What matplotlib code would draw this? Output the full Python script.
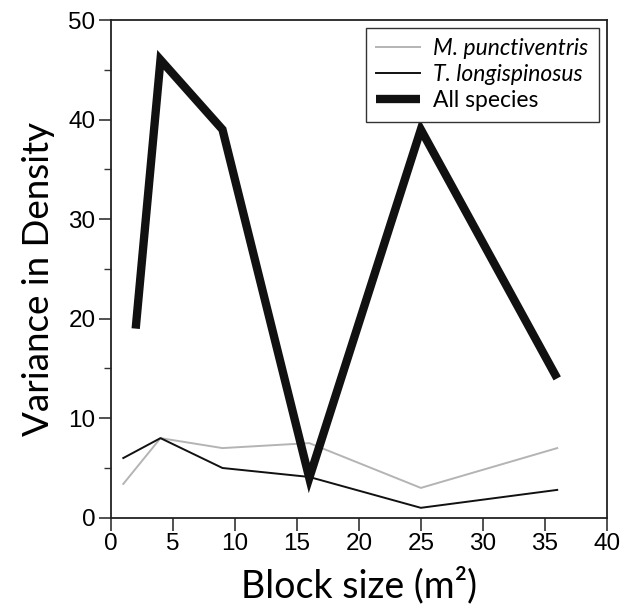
import matplotlib
matplotlib.use("Agg")
import matplotlib.pyplot as plt
from matplotlib.ticker import MultipleLocator

# block sizes (m^2) and variance in density
x_species = [1, 4, 9, 16, 25, 36]
m_punct = [3.4, 8.0, 7.0, 7.5, 3.0, 7.0]
t_long = [6.0, 8.0, 5.0, 4.1, 1.0, 2.8]
x_all = [2, 4, 9, 16, 25, 36]
all_species = [19, 46, 39, 4, 39, 14]

fig = plt.figure(figsize=(6.23, 6.07), dpi=100)
ax = fig.add_axes([0.178, 0.147, 0.796, 0.820])

ax.plot(x_species, m_punct, color="#b4b4b4", lw=1.4, label="M. punctiventris")
ax.plot(x_species, t_long, color="#111111", lw=1.4, label="T. longispinosus")
ax.plot(x_all, all_species, color="#111111", lw=6, solid_capstyle="butt",
        solid_joinstyle="miter", label="All species")

ax.set_xlim(0, 40)
ax.set_ylim(0, 50)
ax.xaxis.set_major_locator(MultipleLocator(5))
ax.yaxis.set_major_locator(MultipleLocator(10))
ax.yaxis.set_minor_locator(MultipleLocator(5))
ax.tick_params(which="both", direction="out", color="#333333")
ax.tick_params(which="major", length=9, width=1.2, labelsize=17.5, pad=2)
ax.tick_params(which="minor", length=5, width=1.0)
for lab in ax.get_xticklabels() + ax.get_yticklabels():
    lab.set_family("Liberation Sans")
for s in ax.spines.values():
    s.set_linewidth(1.3)
    s.set_color("#222222")

ax.set_xlabel("Block size (m²)", fontsize=27, family="Lato", labelpad=8)
ax.set_ylabel("Variance in Density", fontsize=26.5, family="Lato", labelpad=10)
ax.yaxis.label.set_y(0.48)

leg = ax.legend(loc="upper right", fancybox=False, framealpha=1,
                edgecolor="#333333", borderaxespad=0.35, handlelength=1.9,
                borderpad=0.45, labelspacing=0.22, handletextpad=0.6,
                prop={"family": "Lato", "size": 16.5})
leg.get_frame().set_linewidth(1.0)
for t in leg.get_texts()[:2]:
    t.set_style("italic")

fig.savefig("out.png", dpi=100)
